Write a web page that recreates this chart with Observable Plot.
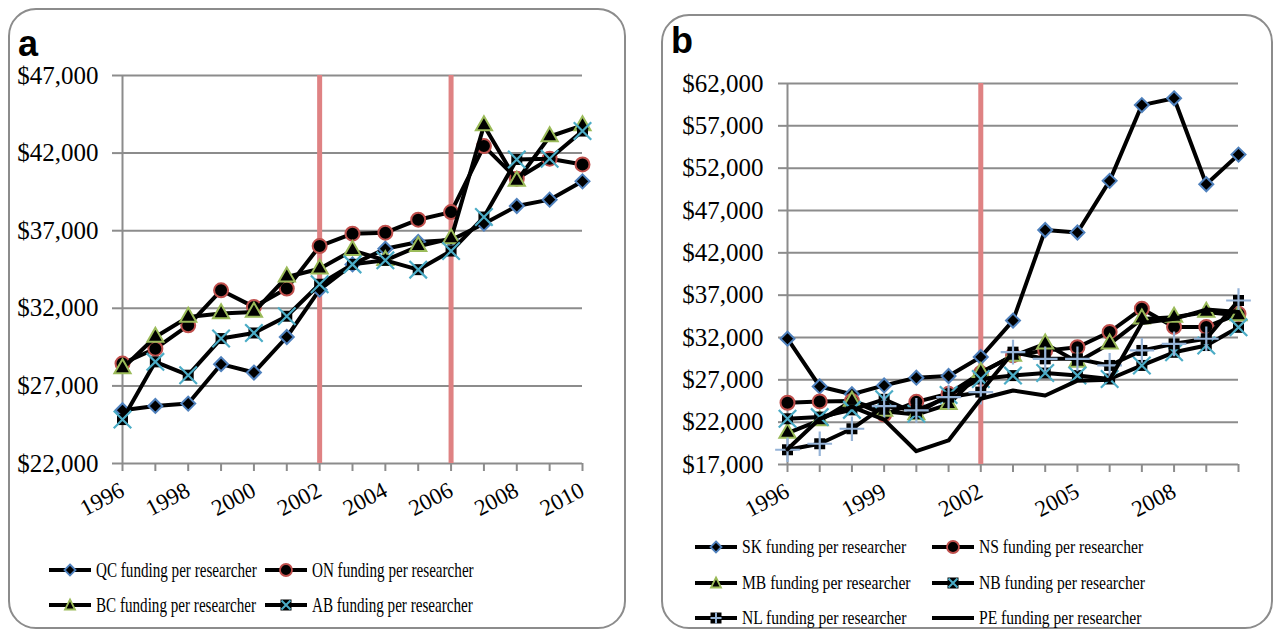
<!DOCTYPE html>
<html><head><meta charset="utf-8">
<script src="https://cdn.jsdelivr.net/npm/d3@7"></script>
<script src="https://cdn.jsdelivr.net/npm/@observablehq/plot@0.6"></script>
<style>
body{margin:0;background:#fff;}
#page{position:relative;width:1275px;height:632px;overflow:hidden;font-family:'Liberation Serif','Times New Roman',serif;background:#fff;}
.frame{position:absolute;border:2px solid #8c8c8c;border-radius:28px;box-sizing:border-box;}
.tag{position:absolute;font-family:'Liberation Sans',Arial,sans-serif;font-weight:bold;font-size:36px;line-height:1;}
.chart{position:absolute;top:0;}
.chart svg text{font-family:'Liberation Serif','Times New Roman',serif;}
.leg{position:absolute;display:flex;align-items:center;white-space:nowrap;height:20px;}
.leg svg{flex:none;}
.leg span{display:inline-block;transform-origin:left center;margin-left:4px;}
</style></head><body><div id="page">
<div class="frame" style="left:8px;top:8px;width:618px;height:621px;"></div>
<div class="frame" style="left:661px;top:14px;width:612px;height:615px;"></div>
<div id="chartA" class="chart" style="left:0px;"></div>
<div id="chartB" class="chart" style="left:640px;"></div>
<div class="tag" style="left:18px;top:26px;">a</div>
<div class="tag" style="left:671px;top:23px;">b</div>
<div id="legA"></div>
<div id="legB"></div>
</div>
<script>
// ---------- Data ----------
const years = [1996,1997,1998,1999,2000,2001,2002,2003,2004,2005,2006,2007,2008,2009,2010];

// Panel a
const qc = [25430,25710,25860,28400,27860,30150,33200,34830,35840,36270,36400,37450,38590,39000,40180];
const on = [28440,29400,30900,33160,32090,33270,36010,36810,36870,37710,38200,42450,40350,41640,41270];
const bc = [28120,30150,31440,31660,31760,34020,34550,35730,35090,35990,36490,43780,40200,43070,43780];
const ab = [24830,28550,27690,30050,30410,31490,33550,34830,35090,34490,35690,37880,41590,41640,43420];

// Panel b
const sk = [31860,26220,25300,26340,27250,27450,29700,34000,44700,44400,50500,59450,60250,50100,53600];
const ns = [24290,24450,24500,22900,24400,25350,27800,29900,30450,30850,32650,35400,33250,33250,34800];
const mb = [20700,22200,24500,23300,22900,24100,27900,29800,31250,29100,31250,34200,34400,35000,34600];
const nb = [22400,22600,23450,24700,23000,25200,27100,27500,27800,27500,27100,28700,30250,31050,33200];
const nl = [18740,19450,21220,23900,23400,24950,25550,30270,29480,29480,28700,30470,31250,31850,36370];
const pe = [18800,22400,23800,22300,18570,19840,24760,25740,25150,26900,27000,33700,34200,35300,35000];

const policyYearsA = [2002, 2006];
const policyYearsB = [2002];
const yTicksA = [22000,27000,32000,37000,42000,47000];
const yTicksB = [17000,22000,27000,32000,37000,42000,47000,52000,57000,62000];
const labelYearsA = [1996,1998,2000,2002,2004,2006,2008,2010];
const labelYearsB = [1996,1999,2002,2005,2008];

const seriesA = [
  {name:"QC funding per researcher", values:qc, marker:"diamond"},
  {name:"ON funding per researcher", values:on, marker:"circle"},
  {name:"BC funding per researcher", values:bc, marker:"triangle"},
  {name:"AB funding per researcher", values:ab, marker:"times"}
];
const seriesB = [
  {name:"SK funding per researcher", values:sk, marker:"diamond"},
  {name:"NS funding per researcher", values:ns, marker:"circle"},
  {name:"MB funding per researcher", values:mb, marker:"triangle"},
  {name:"NB funding per researcher", values:nb, marker:"times"},
  {name:"NL funding per researcher", values:nl, marker:"plus"},
  {name:"PE funding per researcher", values:pe, marker:"none"}
];

// ---------- Styles ----------
const SERIF = "'Liberation Serif','Times New Roman',serif";
const GRID = "#8c8c8c";
const RED = "#df8283";
const markerStyle = {
  diamond: {color:"#4f81bd"},
  circle: {color:"#c0504d"},
  triangle: {color:"#9bbb59"},
  times: {color:"#4bacc6"},
  plus: {color:"#95b3d7"}
};
const dollar = d => "$" + d3.format(",")(d);

function seriesMarks(s) {
  const rows = years.map((y, i) => ({year: y, value: s.values[i]}));
  const marks = [Plot.line(rows, {x:"year", y:"value", stroke:"black", strokeWidth:4, strokeLinejoin:"round"})];
  const c = s.marker === "none" ? null : markerStyle[s.marker].color;
  if (s.marker === "diamond") {
    marks.push(Plot.dot(rows, {x:"year", y:"value", symbol:"diamond2", r:6.3, fill:"black", stroke:c, strokeWidth:2}));
  } else if (s.marker === "circle") {
    marks.push(Plot.dot(rows, {x:"year", y:"value", r:7, fill:"black", stroke:c, strokeWidth:2}));
  } else if (s.marker === "triangle") {
    marks.push(Plot.dot(rows, {x:"year", y:"value", symbol:"triangle", r:6, fill:"black", stroke:c, strokeWidth:2}));
  } else if (s.marker === "times" || s.marker === "plus") {
    marks.push(Plot.dot(rows, {x:"year", y:"value", symbol:"square", r:6.2, fill:"black", stroke:"none"}));
    marks.push(Plot.dot(rows, {x:"year", y:"value", symbol:s.marker, r:8, stroke:c, strokeWidth:2.2}));
  }
  return marks;
}

function makeChart(series, opts) {
  return Plot.plot({
    width: opts.width, height: 540,
    marginLeft: opts.ml, marginRight: opts.mr, marginTop: opts.mt, marginBottom: opts.mb,
    x: {type:"linear", domain:[1996, 2010]},
    y: {type:"linear", domain: opts.ydomain},
    style: {fontFamily:SERIF, fontSize:"23px", background:"transparent", overflow:"visible"},
    marks: [
      Plot.gridY(opts.yticks, {stroke:GRID, strokeOpacity:1, strokeWidth:2}),
      Plot.ruleX(opts.policy, {stroke:RED, strokeWidth:5}),
      Plot.ruleX([1996], {stroke:GRID, strokeWidth:2}),
      Plot.axisY({ticks:opts.yticks, tickSize:opts.ts, tickPadding:opts.tp, tickFormat:dollar, stroke:GRID, strokeWidth:2, fill:"black", fontSize:25, fontFamily:SERIF, label:null}),
      Plot.axisX({ticks:years, tickSize:8, tickFormat:() => "", stroke:GRID, strokeWidth:2, label:null}),
      Plot.axisX({ticks:opts.labelYears, tickSize:0, tickPadding:25, tickRotate:-28, tickFormat:d => String(d), fill:"black", fontSize:23, fontFamily:SERIF, label:null}),
      ...series.flatMap(seriesMarks)
    ]
  });
}

document.getElementById("chartA").appendChild(makeChart(seriesA, {
  width:640, ml:122, mr:58, mt:75, mb:77, ydomain:[22000,47000], yticks:yTicksA,
  policy:policyYearsA, labelYears:labelYearsA, ts:10, tp:14
}));
document.getElementById("chartB").appendChild(makeChart(seriesB, {
  width:635, ml:147, mr:37, mt:83, mb:76, ydomain:[17000,62000], yticks:yTicksB,
  policy:policyYearsB, labelYears:labelYearsB, ts:9, tp:15
}));

// ---------- Legends ----------
function icon(marker) {
  const ns = "http://www.w3.org/2000/svg";
  const svg = document.createElementNS(ns, "svg");
  svg.setAttribute("width", 44); svg.setAttribute("height", 18);
  const add = (tag, attrs) => { const el = document.createElementNS(ns, tag); for (const k in attrs) el.setAttribute(k, attrs[k]); svg.appendChild(el); };
  add("line", {x1:1, x2:43, y1:9, y2:9, stroke:"black", "stroke-width":4});
  if (marker === "none") return svg;
  const c = markerStyle[marker].color;
  if (marker === "diamond") add("path", {d:"M22,3.5L27.5,9L22,14.5L16.5,9Z", fill:"black", stroke:c, "stroke-width":1.8});
  if (marker === "circle") add("circle", {cx:22, cy:9, r:6, fill:"black", stroke:c, "stroke-width":1.8});
  if (marker === "triangle") add("path", {d:"M22,3.5L27,13.5L17,13.5Z", fill:"black", stroke:c, "stroke-width":1.8});
  if (marker === "times" || marker === "plus") {
    add("rect", {x:16.5, y:3.5, width:11, height:11, fill:"black"});
    if (marker === "times") add("path", {d:"M17.5,4.5L26.5,13.5M26.5,4.5L17.5,13.5", stroke:c, "stroke-width":2});
    else add("path", {d:"M22,3.5V14.5M16.5,9H27.5", stroke:c, "stroke-width":2});
  }
  return svg;
}
function legend(containerId, series, layout) {
  const cont = document.getElementById(containerId);
  series.forEach((s, i) => {
    const col = i % 2, row = Math.floor(i / 2);
    const d = document.createElement("div");
    d.className = "leg";
    d.style.left = layout.cols[col] + "px";
    d.style.top = (layout.rows[row] - 10) + "px";
    d.appendChild(icon(s.marker));
    const sp = document.createElement("span");
    sp.textContent = s.name;
    sp.style.fontSize = layout.fs + "px";
    sp.style.transform = "scaleX(" + layout.sx + ")";
    d.appendChild(sp);
    cont.appendChild(d);
  });
}
legend("legA", seriesA, {cols:[48, 264], rows:[570, 605], fs:21, sx:0.72});
legend("legB", seriesB, {cols:[694, 931], rows:[547, 583, 618], fs:19.5, sx:0.8});
</script></body></html>
